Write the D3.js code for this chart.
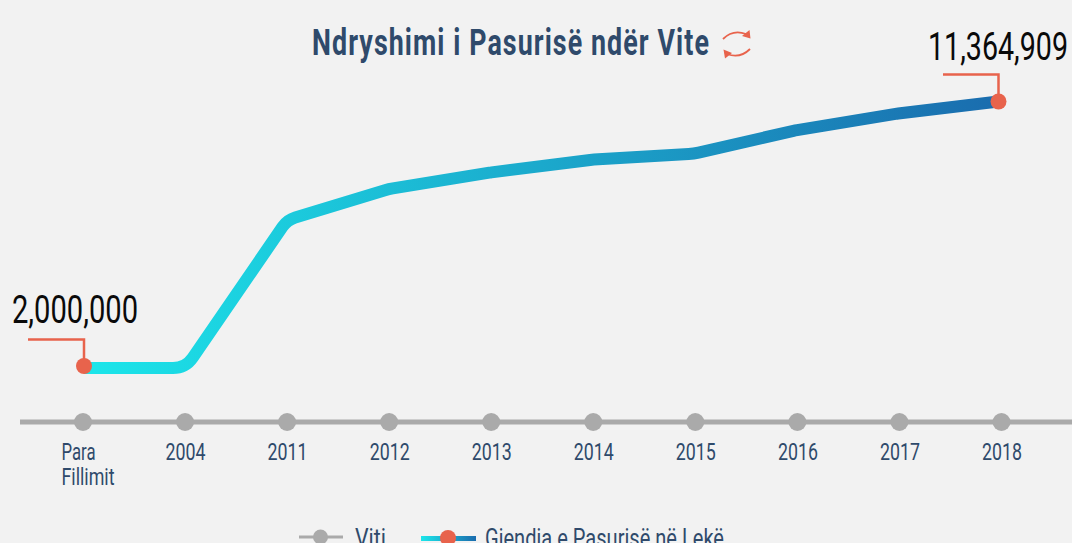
<!DOCTYPE html>
<html><head><meta charset="utf-8">
<script src="https://cdn.jsdelivr.net/npm/d3@7/dist/d3.min.js"></script>
<style>html,body{margin:0;padding:0;background:#f2f2f2;overflow:hidden}svg{display:block}
text{font-family:"Roboto",sans-serif}</style></head><body>
<svg id="c" width="1072" height="543"></svg>
<script>
const categories=["Para Fillimit","2004","2011","2012","2013","2014","2015","2016","2017","2018"];
const wealth=[2000000,2000000,7200000,8290000,8870000,9320000,9530000,10350000,10940000,11364909];
const titleText="Ndryshimi i Pasurisë ndër Vite";
const legendLabels=["Viti","Gjendja e Pasurisë në Lekë"];
const navy="#2f4a6b",orange="#e8634c",grey="#aaaaaa";
const svg=d3.select("#c");
const x=d3.scalePoint().domain(categories).range([83,1001.5]);
const xLine=d3.scalePoint().domain(categories).range([84,998.5]);
const y=d3.scaleLinear().domain([2000000,11364909]).range([368,101.5]);
const defs=svg.append("defs");
const g=defs.append("linearGradient").attr("id","grad").attr("gradientUnits","userSpaceOnUse").attr("x1",84).attr("x2",998).attr("y1",0).attr("y2",0);
g.append("stop").attr("offset",0).attr("stop-color","#1ce6ea");
g.append("stop").attr("offset",1).attr("stop-color","#1a6cae");
const g2=defs.append("linearGradient").attr("id","grad2");
g2.append("stop").attr("offset",0).attr("stop-color","#1ce6ea");
g2.append("stop").attr("offset",1).attr("stop-color","#1a6cae");

const ax=svg.append("g").attr("transform","translate(0,422)");
ax.append("line").attr("x1",20).attr("x2",1072).attr("stroke",grey).attr("stroke-width",5);
const axis=d3.axisBottom(x).tickSize(0).tickPadding(20).tickFormat(d=>d);
const axG=svg.append("g").attr("transform","translate(0,422)").call(axis);
axG.select(".domain").remove();
axG.selectAll("text").attr("fill",navy).attr("font-size",23.5).attr("font-family",null).attr("dy",null).attr("y",0).each(function(d){
  const t=d3.select(this).text("");
  const ps=d.split(" ");
  if(ps.length>1){
    t.attr("text-anchor","start");
    t.append("tspan").attr("x",-22).attr("y",38).attr("textLength",34).attr("lengthAdjust","spacingAndGlyphs").text(ps[0]);
    t.append("tspan").attr("x",-22).attr("y",63).attr("textLength",53).attr("lengthAdjust","spacingAndGlyphs").text(ps[1]);
  } else {
    t.attr("text-anchor","middle");
    t.append("tspan").attr("x",0).attr("y",38).attr("textLength",40).attr("lengthAdjust","spacingAndGlyphs").text(d);
  }
});
ax.selectAll("circle").data(categories).join("circle").attr("cx",d=>x(d)).attr("r",9).attr("fill",grey);

// rounded line
const p=d3.path();
const pts=categories.map((c,i)=>[xLine(c),y(wealth[i])]);
p.moveTo(...pts[0]);
for(let i=1;i<pts.length-1;i++){p.arcTo(pts[i][0],pts[i][1],pts[i+1][0],pts[i+1][1],i<3?24:60);}
p.lineTo(...pts[pts.length-1]);
svg.append("path").attr("d",p.toString()).attr("fill","none").attr("stroke","url(#grad)").attr("stroke-width",12);

// callouts
const last=wealth.length-1;
[[0,"2,000,000",28,339.5,12,323,126],[last,"11,364,909",943,74.5,928,60,140]].forEach(([i,lab,lx,ly,tx,ty,tw])=>{
  const cx=xLine(categories[i]),cy=y(wealth[i])+(i?0:-2);
  svg.append("path").attr("d",`M${lx},${ly}H${cx}V${cy}`).attr("fill","none").attr("stroke",orange).attr("stroke-width",2.5);
  svg.append("circle").attr("cx",cx).attr("cy",cy).attr("r",8).attr("fill",orange);
  svg.append("text").attr("x",tx).attr("y",ty).attr("font-size",38).attr("fill","#0a0a0a").attr("textLength",tw).attr("lengthAdjust","spacingAndGlyphs").text(lab);
});

// title
svg.append("text").attr("x",312).attr("y",55).attr("font-size",37).attr("font-weight",700).attr("fill",navy).attr("letter-spacing",1.5)
 .attr("textLength",398).attr("lengthAdjust","spacingAndGlyphs").text(titleText);
// icon
const ic=svg.append("g").attr("fill","none").attr("stroke",orange).attr("stroke-width",1.8);
ic.append("path").attr("d","M723,39Q733,29 746,34");
ic.append("path").attr("d","M750,49Q740,59 727,54");
const ia=svg.append("g").attr("fill",orange);
ia.append("path").attr("d","M749.5,30L750.5,38.5L742,36Z");
ia.append("path").attr("d","M723.5,49.5L725,58.5L732,53Z");

// legend
const lg=svg.append("g");
lg.append("line").attr("x1",299).attr("x2",343).attr("y1",537).attr("y2",537).attr("stroke",grey).attr("stroke-width",3);
lg.append("circle").attr("cx",320.5).attr("cy",537).attr("r",7.5).attr("fill",grey);
lg.append("rect").attr("x",421).attr("y",536).attr("width",55).attr("height",5).attr("fill","url(#grad2)");
lg.append("circle").attr("cx",448).attr("cy",538).attr("r",8).attr("fill",orange);
lg.append("text").attr("x",355).attr("y",547).attr("font-size",26).attr("fill",navy).attr("textLength",31).attr("lengthAdjust","spacingAndGlyphs").text(legendLabels[0]);
lg.append("text").attr("x",485).attr("y",547).attr("font-size",26).attr("fill",navy).attr("textLength",239).attr("lengthAdjust","spacingAndGlyphs").text(legendLabels[1]);
</script></body></html>
